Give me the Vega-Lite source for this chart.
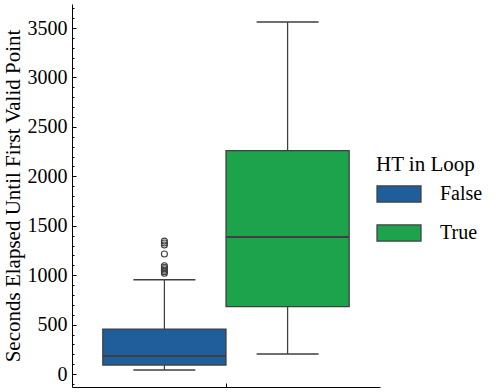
{
  "$schema": "https://vega.github.io/schema/vega-lite/v6.json",
  "width": 308,
  "height": 383,
  "autosize": "none",
  "padding": {"left": 72, "top": 4, "right": 119, "bottom": 5},
  "config": {
    "view": {"stroke": null},
    "font": "Liberation Serif",
    "axis": {"grid": false, "domainColor": "black", "tickColor": "black", "labelColor": "black", "titleColor": "black", "labelFont": "Liberation Serif", "titleFont": "Liberation Serif", "tickWidth": 1, "domainWidth": 1},
    "axisY": {"labelOverlap": false, "labelFontSize": 20, "labelPadding": 9, "titleFontSize": 21, "titleFontWeight": "normal", "titlePadding": 4}
  },
  "datasets": {
    "stats": [
      {"cat": "", "HT": "False", "lower": 40, "q1": 91, "median": 182, "q3": 455, "upper": 954},
      {"cat": "", "HT": "True", "lower": 202, "q1": 681, "median": 1386, "q3": 2259, "upper": 3561}
    ],
    "outliers": [
      {"cat": "", "HT": "False", "value": 1345},
      {"cat": "", "HT": "False", "value": 1325},
      {"cat": "", "HT": "False", "value": 1305},
      {"cat": "", "HT": "False", "value": 1215},
      {"cat": "", "HT": "False", "value": 1095},
      {"cat": "", "HT": "False", "value": 1080},
      {"cat": "", "HT": "False", "value": 1065},
      {"cat": "", "HT": "False", "value": 1050},
      {"cat": "", "HT": "False", "value": 1035},
      {"cat": "", "HT": "False", "value": 1020}
    ]
  },
  "encoding": {
    "x": {
      "field": "cat", "type": "nominal",
      "scale": {"paddingInner": 0, "paddingOuter": 0.125},
      "axis": {"labels": false, "title": null, "tickSize": -4}
    },
    "xOffset": {
      "field": "HT", "type": "nominal",
      "scale": {"paddingInner": 0, "paddingOuter": 0}
    }
  },
  "layer": [
    {
      "data": {"name": "stats"},
      "mark": {"type": "rule", "color": "#3f3f3f", "strokeWidth": 1.25},
      "encoding": {
        "y": {
          "field": "lower", "type": "quantitative",
          "scale": {"domain": [-131, 3743], "nice": false, "zero": false},
          "title": "Seconds Elapsed Until First Valid Point",
          "axis": {
            "values": [-100, 0, 100, 200, 300, 400, 500, 600, 700, 800, 900, 1000, 1100, 1200, 1300, 1400, 1500, 1600, 1700, 1800, 1900, 2000, 2100, 2200, 2300, 2400, 2500, 2600, 2700, 2800, 2900, 3000, 3100, 3200, 3300, 3400, 3500, 3600, 3700],
            "tickCount": 100,
            "format": "d",
            "labelExpr": "datum.value % 500 === 0 ? datum.label : ''",
            "labelOverlap": false,
            "tickSize": {"condition": {"test": "datum.value % 500 === 0", "value": -4}, "value": -2}
          }
        },
        "y2": {"field": "upper"}
      }
    },
    {
      "data": {"name": "stats"},
      "mark": {"type": "bar", "stroke": "#3f3f3f", "strokeWidth": 1.25},
      "encoding": {
        "y": {"field": "q1", "type": "quantitative", "title": "Seconds Elapsed Until First Valid Point"},
        "y2": {"field": "q3"},
        "fill": {
          "field": "HT", "type": "nominal",
          "scale": {"domain": ["False", "True"], "range": ["#205e9b", "#1ca34c"]},
          "legend": {
            "orient": "none", "legendX": 304, "legendY": 150,
            "title": "HT in Loop",
            "titleFontSize": 21, "titleFont": "Liberation Serif", "titleFontWeight": "normal", "titleColor": "black",
            "titlePadding": 9,
            "labelFontSize": 20, "labelFont": "Liberation Serif", "labelColor": "black",
            "symbolType": "M-1,-0.364H1V0.364H-1Z",
            "symbolSize": 1936,
            "symbolStrokeColor": "#3f3f3f",
            "symbolStrokeWidth": 1.25,
            "symbolOpacity": 1,
            "labelOffset": 18,
            "clipHeight": 20,
            "rowPadding": 19
          }
        }
      }
    },
    {
      "data": {"name": "stats"},
      "mark": {"type": "tick", "color": "#3f3f3f", "size": 123, "thickness": 2, "opacity": 1},
      "encoding": {
        "y": {"field": "median", "type": "quantitative", "title": "Seconds Elapsed Until First Valid Point"}
      }
    },
    {
      "data": {"name": "stats"},
      "mark": {"type": "tick", "color": "#3f3f3f", "size": 62, "thickness": 1.5, "opacity": 1},
      "encoding": {
        "y": {"field": "lower", "type": "quantitative", "title": "Seconds Elapsed Until First Valid Point"}
      }
    },
    {
      "data": {"name": "stats"},
      "mark": {"type": "tick", "color": "#3f3f3f", "size": 62, "thickness": 1.5, "opacity": 1},
      "encoding": {
        "y": {"field": "upper", "type": "quantitative", "title": "Seconds Elapsed Until First Valid Point"}
      }
    },
    {
      "data": {"name": "outliers"},
      "mark": {"type": "point", "shape": "circle", "filled": false, "color": "#3f3f3f", "size": 36, "strokeWidth": 1.1, "opacity": 1},
      "encoding": {
        "y": {"field": "value", "type": "quantitative", "title": "Seconds Elapsed Until First Valid Point"}
      }
    }
  ]
}
